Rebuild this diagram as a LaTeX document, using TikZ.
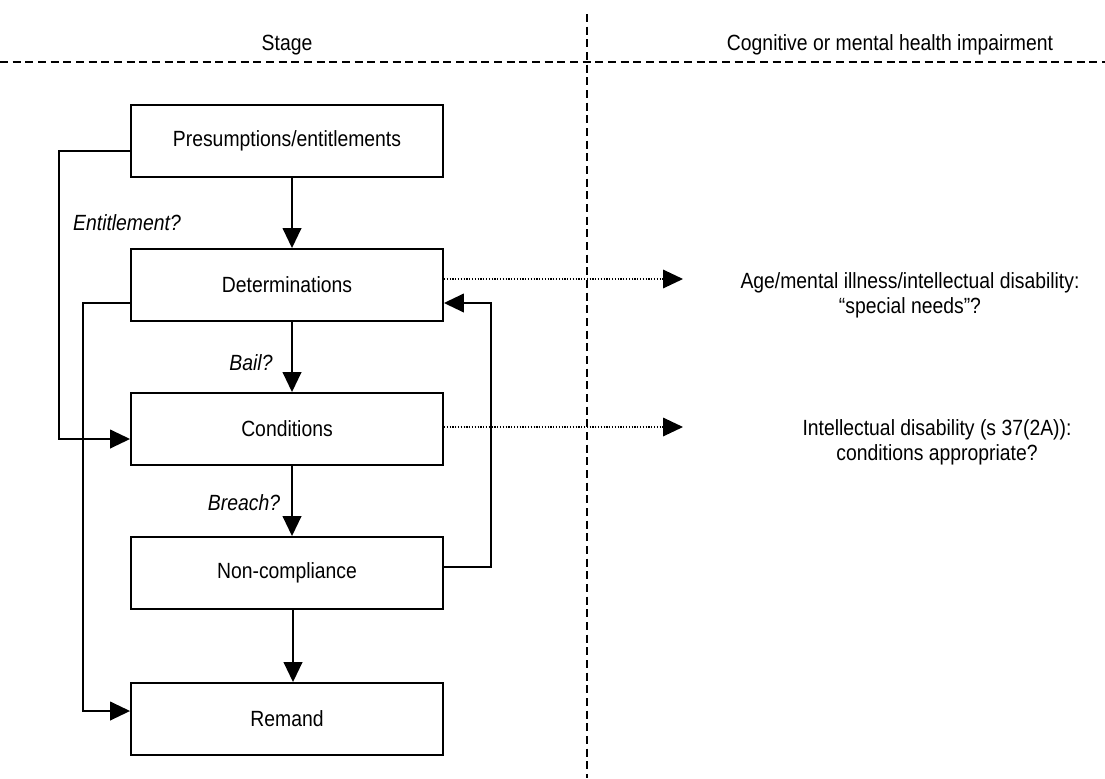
\documentclass[tikz,border=0pt]{standalone}
\usepackage{fontspec}
\setmainfont[FakeStretch=0.88]{Liberation Sans}
\usetikzlibrary{arrows.meta}
\tikzset{
  stagebox/.style={draw,line width=1.4pt,minimum width=234pt,minimum height=54pt,inner sep=0pt},
  conn/.style={line width=1.4pt,-{Triangle[length=15pt,width=14pt]}},
  dotconn/.style={line width=0.9pt,dash pattern=on 0.9pt off 1.2pt,-{Triangle[length=15pt,width=14pt]}},
  divider/.style={line width=1.2pt,dash pattern=on 6pt off 3.5pt},
  question/.style={font=\fontsize{16.5}{18.75}\selectfont\itshape}
}
\begin{document}
\begin{tikzpicture}[x=0.75pt,y=-0.75pt,font=\fontsize{16.5}{18.75}\selectfont]
			\useasboundingbox (0,0) rectangle (1105,778);
			% headings and dividers
			\node (stagehd) at (287,45) {Stage};
			\node (cmhhd) at (890,45) {Cognitive or mental health impairment};
			\draw[divider] (0,62) -- (1105,62);
			\draw[divider] (587,14) -- (587,778);
			
			% the stages
			\node[stagebox] (pres) at (287,141) {Presumptions/entitlements};
			\node[stagebox] (det) at (287,285) {Determinations};
			\node[stagebox] (cond) at (287,429) {Conditions};
			\node[stagebox] (non) at (287,573) {Non-compliance};
			\node[stagebox] (rem) at (287,719) {Remand};
			
			\draw[conn] ([xshift=3.75pt]pres.south) -- ([xshift=3.75pt]det.north);
			\draw[conn] ([xshift=3.75pt]det.south) -- ([xshift=3.75pt]cond.north);
			\draw[conn] ([xshift=3.75pt]cond.south) -- ([xshift=3.75pt]non.north);
			\draw[conn] ([xshift=4.5pt]non.south) -- ([xshift=4.5pt]rem.north);
			
			\node[question] (entq) at (127,223) {Entitlement?};
			\node[question] (bailq) at (251,363) {Bail?};
			\node[question] (breachq) at (244,503) {Breach?};
			
			% side routes
			\draw[conn] (pres.west |- 0,151) -| (59,439) -- (cond.west |- 0,439);
			\draw[conn] (det.west |- 0,303) -| (83,711) -- (rem.west |- 0,711);
			\draw[conn] (non.east |- 0,567) -| (491,303) -- (det.east |- 0,303);
			
			% impairment questions
			\node[align=center] (needs) at (910,295) {Age/mental illness/intellectual disability:\\“special needs”?};
			\node[align=center] (approp) at (937,442) {Intellectual disability (s 37(2A)):\\conditions appropriate?};
			\coordinate (needstip) at (683,279);
			\coordinate (approptip) at (683,427);
			\draw[dotconn] (det.east |- needstip) -- (needstip);
			\draw[dotconn] (cond.east |- approptip) -- (approptip);
		\end{tikzpicture}
\end{document}
